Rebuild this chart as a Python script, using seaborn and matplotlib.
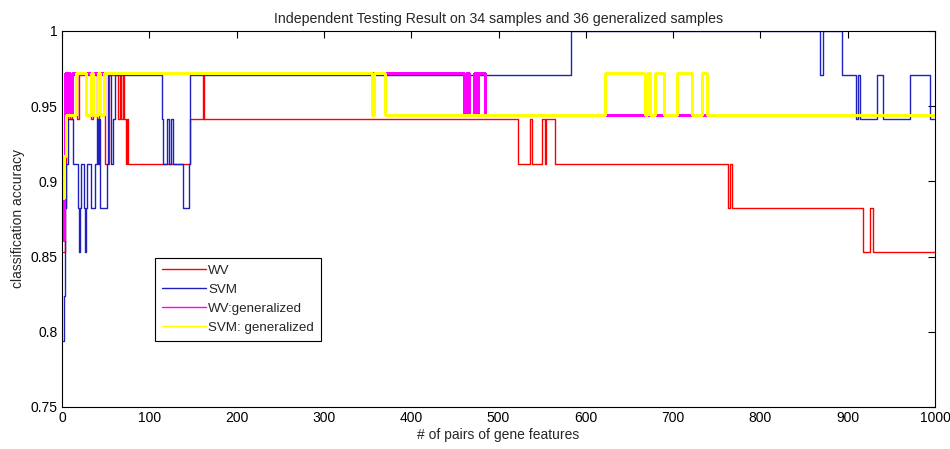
import numpy as np
import pandas as pd
import matplotlib
matplotlib.use("Agg")
import matplotlib.pyplot as plt
import seaborn as sns

# ---- data: step change points (x = # of pairs) and accuracy after each change ----
x_end = 1000

wv_x = [1, 3, 5, 7, 9, 11, 17, 19, 33, 35, 40, 42, 49, 54, 64, 66, 68, 70, 71, 73, 74, 76,
        147, 161, 163, 522, 536, 538, 550, 553, 554, 565, 763, 765, 767, 917, 926, 929]
wv_acc = [0.8529, 0.8824, 0.9412, 0.9706, 0.9412, 0.9706, 0.9412, 0.9706, 0.9412, 0.9706,
          0.9412, 0.9706, 0.9118, 0.9706, 0.9412, 0.9706, 0.9412, 0.9706, 0.9412, 0.9118,
          0.9412, 0.9118, 0.9412, 0.9706, 0.9412, 0.9118, 0.9412, 0.9118, 0.9412, 0.9118,
          0.9412, 0.9118, 0.8824, 0.9118, 0.8824, 0.8529, 0.8824, 0.8529]

svm_x = [1, 2, 3, 4, 5, 7, 13, 18, 19, 21, 22, 25, 26, 28, 29, 33, 38, 40, 41, 42, 43, 44,
         51, 53, 56, 58, 61, 114, 116, 120, 122, 125, 127, 139, 145, 147, 583, 868, 872,
         894, 910, 912, 914, 933, 940, 971, 994]
svm_acc = [0.7941, 0.8235, 0.8529, 0.8824, 0.9118, 0.9412, 0.9118, 0.8824, 0.8529, 0.8824,
           0.9118, 0.8824, 0.8529, 0.8824, 0.9118, 0.8824, 0.9118, 0.9412, 0.9118, 0.9412,
           0.9118, 0.8824, 0.9118, 0.9706, 0.9118, 0.9412, 0.9706, 0.9412, 0.9118, 0.9412,
           0.9118, 0.9412, 0.9118, 0.8824, 0.9118, 0.9706, 1.0, 0.9706, 1.0, 0.9706, 0.9412,
           0.9706, 0.9412, 0.9706, 0.9412, 0.9706, 0.9412]

wvg_x = [1, 2, 3, 4, 6, 7, 9, 11, 461, 463, 466, 472, 475, 477, 484]
wvg_acc = [0.8611, 0.9167, 0.9444, 0.9722, 0.9444, 0.9722, 0.9444, 0.9722, 0.9444, 0.9722,
           0.9444, 0.9722, 0.9444, 0.9722, 0.9444]

svmg_x = [1, 2, 5, 16, 28, 33, 35, 41, 44, 48, 355, 357, 370, 622, 668, 670, 673, 679, 690,
          705, 722, 733, 739]
svmg_acc = [0.8889, 0.9167, 0.9444, 0.9722, 0.9444, 0.9722, 0.9444, 0.9722, 0.9444, 0.9722,
            0.9444, 0.9722, 0.9444, 0.9722, 0.9444, 0.9722, 0.9444, 0.9722, 0.9444, 0.9722,
            0.9444, 0.9722, 0.9444]

labels = ["WV", "SVM", "WV:generalized", "SVM: generalized"]
colors = ["#ff0000", "#2020c0", "#ff00ff", "#ffff00"]

x_ticks = [0, 100, 200, 300, 400, 500, 600, 700, 800, 900, 1000]
y_ticks = [0.75, 0.8, 0.85, 0.9, 0.95, 1.0]
y_tick_labels = ["0.75", "0.8", "0.85", "0.9", "0.95", "1"]

# ---- build table ----
frames = []
for name, xs, ys in zip(labels, [wv_x, svm_x, wvg_x, svmg_x], [wv_acc, svm_acc, wvg_acc, svmg_acc]):
    xx = list(xs) + [x_end]
    yy = list(ys) + [ys[-1]]
    frames.append(pd.DataFrame({"x": xx, "acc": yy, "method": name}))
df = pd.concat(frames, ignore_index=True)

sns.set_style("white")
plt.rcParams["font.family"] = ["Liberation Sans Narrow", "Liberation Sans", "DejaVu Sans"]

fig = plt.figure(figsize=(9.5, 4.49), dpi=100)
ax = fig.add_axes([62 / 950, 1 - 407 / 449, (935 - 62) / 950, (407 - 31) / 449])

sns.lineplot(data=df, x="x", y="acc", hue="method", hue_order=labels,
             palette=dict(zip(labels, colors)), estimator=None, sort=False,
             drawstyle="steps-post", linewidth=1.0, ax=ax)

# per-series rendering (generalized series drawn crisp so yellow fully hides magenta)
line_styles = {"WV": (1.0, True), "SVM": (1.0, True),
               "WV:generalized": (0.9, False), "SVM: generalized": (0.9, False)}
for ln, name in zip(ax.get_lines()[:4], labels):
    lw, aa = line_styles[name]
    ln.set_linewidth(lw)
    ln.set_antialiased(aa)

ax.set_xlim(0, 1000)
ax.set_ylim(0.75, 1.0)
ax.set_xticks(x_ticks)
ax.set_xticklabels([str(t) for t in x_ticks])
ax.set_yticks(y_ticks)
ax.set_yticklabels(y_tick_labels)
ax.tick_params(direction="in", length=5, width=0.8, top=True, right=True,
               labelsize=10, colors="black", pad=3)
for s in ax.spines.values():
    s.set_visible(True)
    s.set_color("black")
    s.set_linewidth(0.8)

ax.set_xlabel("# of pairs of gene features", fontsize=10, labelpad=2)
ax.set_ylabel("classification accuracy", fontsize=10, labelpad=4)
ax.set_title("Independent Testing Result on 34 samples and 36 generalized samples",
             fontsize=10.2, pad=6)

handles, labs = ax.get_legend_handles_labels()
if ax.get_legend() is not None:
    ax.get_legend().remove()
leg = ax.legend(handles, labs, loc="upper left", bbox_to_anchor=(0.1065, 0.396),
                frameon=True, fancybox=False, edgecolor="black", framealpha=1,
                fontsize=9.6, handlelength=3.3, handletextpad=0.2, borderpad=0.5,
                labelspacing=0.5, borderaxespad=0)
leg.get_frame().set_linewidth(0.8)
for h in leg.get_lines():
    h.set_linewidth(1.0)
    h.set_antialiased(True)

fig.savefig("out.png", dpi=100, facecolor="white")
